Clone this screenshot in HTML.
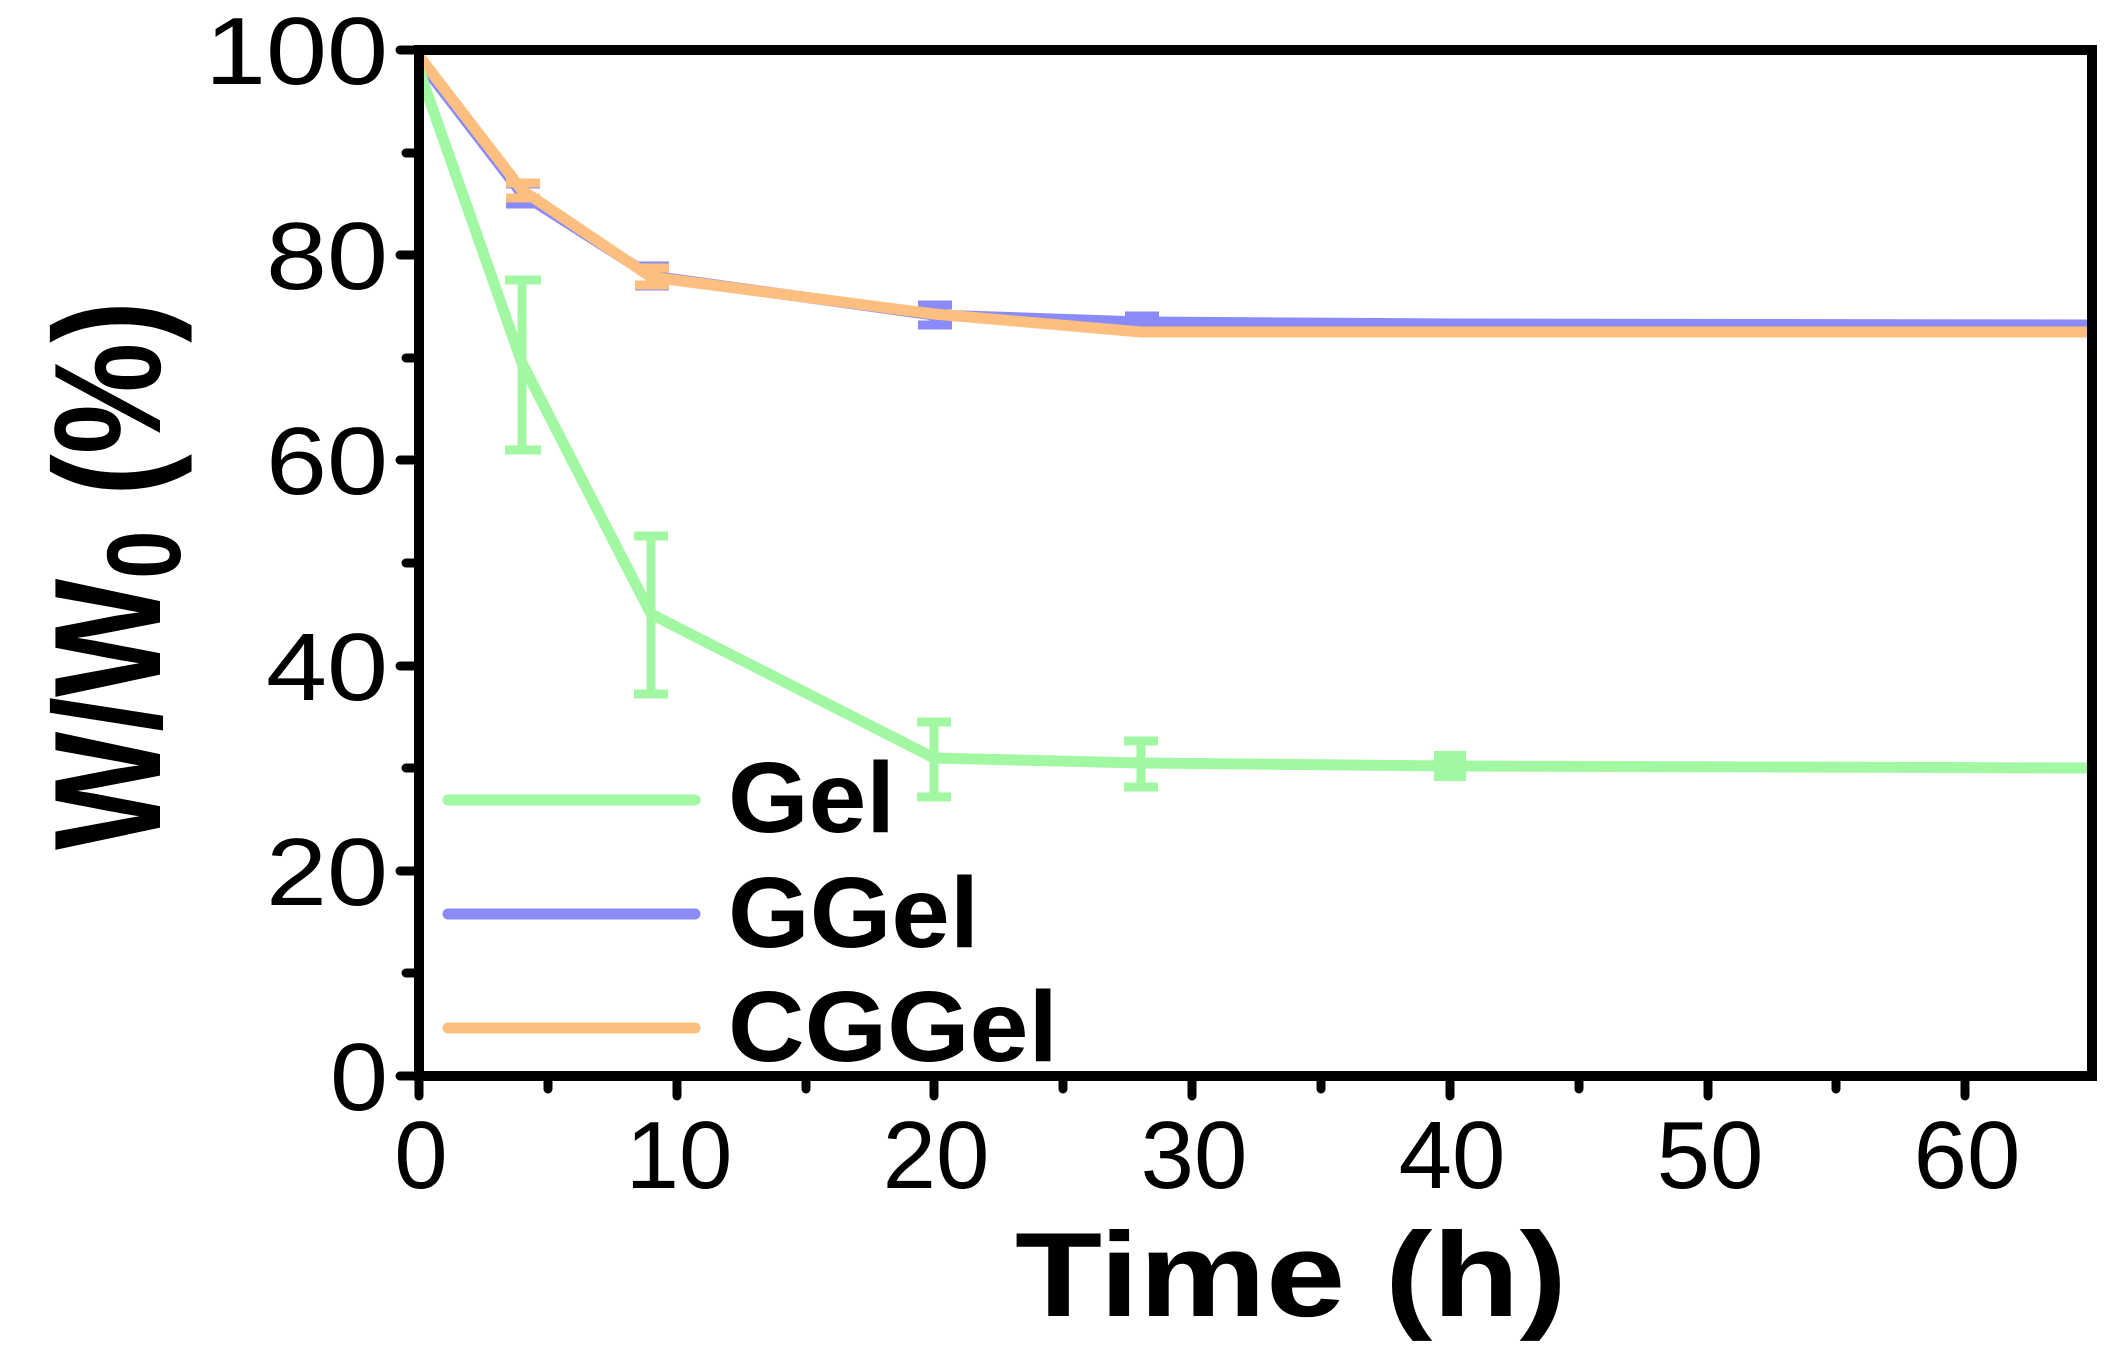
<!DOCTYPE html>
<html><head><meta charset="utf-8"><style>html,body{margin:0;padding:0;background:#fff;}svg{display:block}</style></head>
<body>
<svg width="2116" height="1360" viewBox="0 0 2116 1360" xmlns="http://www.w3.org/2000/svg" font-family="Liberation Sans, Arial, sans-serif">
<rect width="2116" height="1360" fill="#fff"/>
<g fill="none" stroke-linejoin="round">
<polyline stroke="#8a8af8" stroke-width="11" points="419,60 522,194 651,276 934,315 1141,322 1450,324 2090,325"/>
<g stroke="#8a8af8" stroke-width="9">
<path d="M522,184V204M506,184H540M506,204H540"/>
<path d="M651,266V286M635,266H669M635,286H669"/>
<path d="M934,305V325M918,305H952M918,325H952"/>
<path d="M1141,316V328M1125,316H1159M1125,328H1159"/>
</g>
<polyline stroke="#fdbf80" stroke-width="11" points="419,56 522,190 651,277 934,314 1141,332 1450,332 2090,332"/>
<g stroke="#fdbf80" stroke-width="9">
<path d="M522,183V198M506,183H540M506,198H540"/>
<path d="M651,268V285M635,268H669M635,285H669"/>
</g>
<polyline stroke="#a2f8a2" stroke-width="11" points="419,70 522,363 651,614 934,758 1141,763 1450,766 2090,768"/>
<g stroke="#a2f8a2" stroke-width="9">
<path d="M522,280V450M505,280H541M505,450H541"/>
<path d="M651,536V694M634,536H668M634,694H668"/>
<path d="M934,722V797M917,722H951M917,797H951"/>
<path d="M1141,741V787M1124,741H1158M1124,787H1158"/>
<path d="M1450,757V775M1434,757H1466M1434,775H1466" stroke-width="12"/>
</g>
</g>
<rect x="419" y="50" width="1673" height="1026" fill="none" stroke="#000" stroke-width="10"/>
<g stroke="#000" stroke-width="9" stroke-linecap="round">
<path d="M400,50H419M400,255H419M400,460H419M400,666H419M400,871H419M400,1076H419"/>
<path d="M406,153H419M406,358H419M406,563H419M406,768H419M406,973H419"/>
<path d="M419,1076V1096M677,1076V1096M934,1076V1096M1192,1076V1096M1450,1076V1096M1708,1076V1096M1965,1076V1096"/>
<path d="M548,1076V1089M806,1076V1089M1063,1076V1089M1321,1076V1089M1579,1076V1089M1836,1076V1089"/>
</g>
<g font-size="96" fill="#000" text-anchor="end">
<text x="388" y="84" textLength="183" lengthAdjust="spacingAndGlyphs">100</text>
<text x="388" y="289" textLength="122" lengthAdjust="spacingAndGlyphs">80</text>
<text x="388" y="494" textLength="122" lengthAdjust="spacingAndGlyphs">60</text>
<text x="388" y="700" textLength="122" lengthAdjust="spacingAndGlyphs">40</text>
<text x="388" y="905" textLength="122" lengthAdjust="spacingAndGlyphs">20</text>
<text x="388" y="1110" textLength="58" lengthAdjust="spacingAndGlyphs">0</text>
</g>
<g font-size="96" fill="#000" text-anchor="middle">
<text x="421" y="1188">0</text>
<text x="679" y="1188">10</text>
<text x="936" y="1188">20</text>
<text x="1194" y="1188">30</text>
<text x="1452" y="1188">40</text>
<text x="1710" y="1188">50</text>
<text x="1967" y="1188">60</text>
</g>
<text x="1015" y="1316" font-size="120" font-weight="bold" textLength="552" lengthAdjust="spacingAndGlyphs">Time (h)</text>
<text transform="translate(160,850) rotate(-90)" font-size="152" font-weight="bold" textLength="549" lengthAdjust="spacingAndGlyphs">W/W<tspan font-size="105" dy="20">0</tspan><tspan dy="-20"> (%)</tspan></text>
<g stroke-width="11" stroke-linecap="round">
<line x1="448" y1="800" x2="695" y2="800" stroke="#a2f8a2"/>
<line x1="448" y1="914" x2="695" y2="914" stroke="#8a8af8"/>
<line x1="448" y1="1028" x2="695" y2="1028" stroke="#fdbf80"/>
</g>
<g font-size="100" font-weight="bold" fill="#000">
<text x="728" y="832" textLength="167" lengthAdjust="spacingAndGlyphs">Gel</text>
<text x="728" y="947" textLength="251" lengthAdjust="spacingAndGlyphs">GGel</text>
<text x="728" y="1061" textLength="330" lengthAdjust="spacingAndGlyphs">CGGel</text>
</g>
</svg>
</body></html>
